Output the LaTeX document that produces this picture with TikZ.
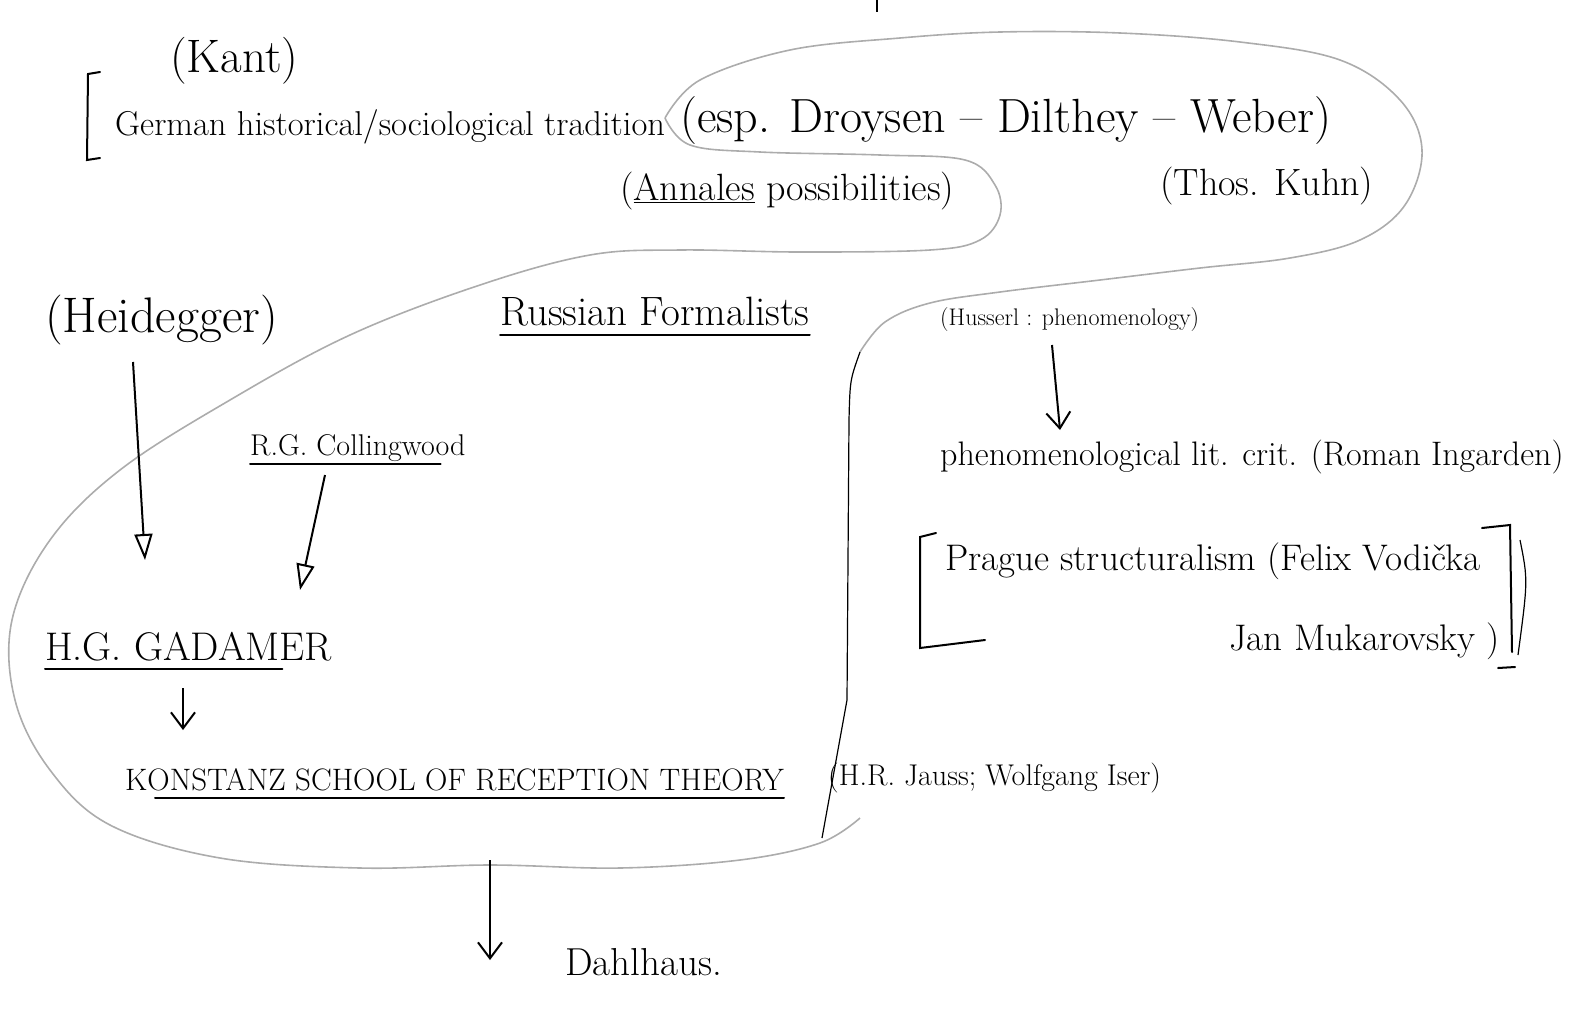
\documentclass[tikz,border=0pt]{standalone}
\usepackage{tikz}
\usetikzlibrary{arrows.meta,calc}

\begin{document}
\begin{tikzpicture}[x=1pt,y=-1pt,
    hw/.style={font=\fontsize{#1}{#1}\selectfont,inner sep=0pt,anchor=base west},
    ul/.style={line width=2pt,line cap=round},
    loopline/.style={gray!65,line width=1.6pt},
    tri/.style={line width=2pt,-{Triangle[open,length=26pt,width=18pt,line width=2pt]}},
    barb/.style={line width=2pt,-{Straight Barb[length=16pt,width=24pt,line width=2pt]}}]
  \useasboundingbox(0,0)rectangle(1574,1013);
  % texts
  \node[hw=47](kant)at(170,72){(Kant)};
  \node[hw=34.5](germ)at(115,135){German historical/sociological tradition};
  \node[hw=48](droy)at(680,132){(esp. Droysen -- Dilthey -- Weber)};
  \node[hw=38](annl)at(620,200){(\underline{Annales} possibilities)};
  \node[hw=38](kuhn)at(1160,195){(Thos. Kuhn)};
  \node[hw=50](heid)at(45,332){(Heidegger)};
  \node[hw=41](russ)at(500,325){Russian Formalists};
  \node[hw=24](huss)at(940,325){(Husserl : phenomenology)};
  \node[hw=30](coll)at(250,455){R.G. Collingwood};
  \node[hw=34](phen)at(940,465){phenomenological lit. crit. (Roman Ingarden)};
  \node[hw=37](prg1)at(945,570){Prague structuralism (Felix Vodi\v{c}ka};
  \node[hw=37,anchor=base east](prg2)at(1500,650){Jan Mukarovsky )};
  \node[hw=40](gad)at(45,660){H.G. GADAMER};
  \node[hw=31](konst)at(125,790){KONSTANZ SCHOOL OF RECEPTION THEORY};
  \node[hw=30](jaus)at(828,785){(H.R. Jauss; Wolfgang Iser)};
  \node[hw=39](dahl)at(565,975){Dahlhaus.};
  % underlines
  \draw[ul]([yshift=-10pt]russ.base west)--([yshift=-10pt]russ.base east);
  \draw[ul]([yshift=-9pt]coll.base west)--([yshift=-9pt,xshift=-25pt]coll.base east);
  \draw[ul]([yshift=-9pt]gad.base west)--([yshift=-9pt,xshift=-50pt]gad.base east);
  \draw[ul]([yshift=-8pt,xshift=30pt]konst.base west)--([yshift=-8pt]konst.base east);
  % brackets
  \draw[ul](100,72)--(88,74)--(87,160)--(100,158);
  \draw[ul](936,533)--(920,537)--(920,648)--(985,640);
  \draw[ul](1482,528)--(1510,525)--(1512,652);
  \draw[line width=1.2pt](1520,540)..controls(1528,580)..(1518,655);
  \draw[ul](1498,668)--(1515,667);
  \draw[line width=1.5pt](877,0)--(877,12);
  % loops
  \draw[loopline]plot[smooth,tension=0.6]coordinates{(665,118)(700,80)(790,50)(900,38)(1000,32)(1120,33)(1240,42)(1340,60)(1400,100)(1422,150)(1405,205)(1360,240)(1290,258)(1200,268)(1100,280)(1000,292)(930,303)(885,322)(860,352)};
  \draw[line width=1.2pt](860,352)..controls(850,380)..(849,420)--(847,700)--(822,838);
  \draw[loopline]plot[smooth,tension=0.6]coordinates{(665,118)(690,145)(760,152)(880,155)(965,160)(995,185)(1000,215)(980,240)(930,250)(800,252)(680,250)(590,255)(480,285)(350,335)(230,400)(120,470)(50,540)(12,620)(15,700)(50,770)(110,825)(220,858)(360,868)(490,865)(620,868)(740,860)(820,843)(860,818)};
  % arrows
  \draw[tri]($(heid.base west)+(88,30)$)--($(gad.base west)+(100,-100)$);
  \draw[tri]($(coll.base west)+(75,20)$)--($(gad.base west)+(255,-70)$);
  \draw[barb]($(gad.base west)+(138,28)$)--($(konst.base west)+(58,-60)$);
  \draw[barb]($(huss.base west)+(112,20)$)--($(phen.base west)+(120,-35)$);
  \draw[barb]($(konst.base west)+(365,70)$)--($(dahl.base west)+(-75,-15)$);
\end{tikzpicture}
\end{document}
